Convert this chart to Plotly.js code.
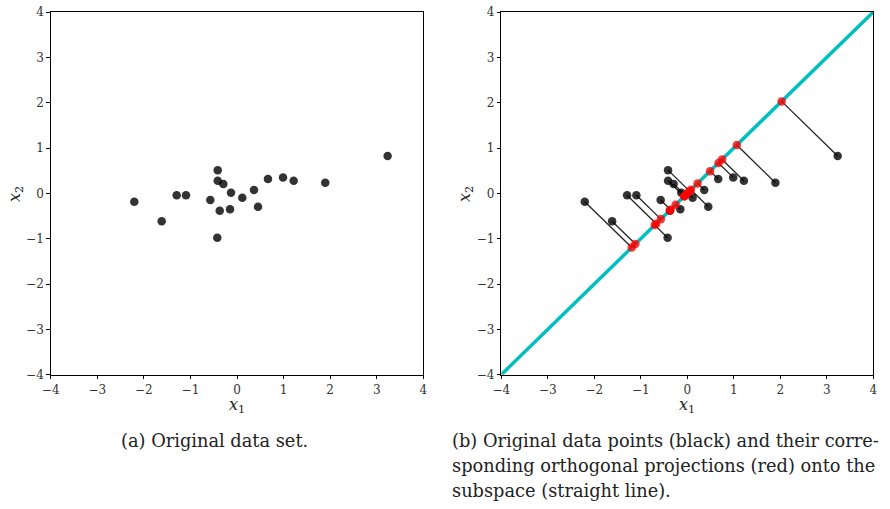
<!DOCTYPE html>
<html>
<head>
<meta charset="utf-8">
<script src="https://cdn.plot.ly/plotly-3.0.1.min.js"></script>
<style>
html,body{margin:0;padding:0;background:#fff;}
#chart{width:890px;height:509px;}
</style>
</head>
<body>
<div id="chart"></div>
<script>
// Data
var x1 = [-2.205, -1.617, -1.295, -1.095, -0.573, -0.414, -0.414, -0.294, -0.371, -0.150,
          -0.423, -0.129, 0.114, 0.365, 0.451, 0.665, 0.988, 1.217, 1.895, 3.234];
var x2 = [-0.184, -0.616, -0.042, -0.042, -0.147, 0.512, 0.279, 0.206, -0.382, -0.352,
          -0.978, 0.015, -0.096, 0.074, -0.294, 0.315, 0.352, 0.279, 0.234, 0.823];
var subspaceX = [-4, 4];
var subspaceY = [-4, 4];
var tickVals = [-4, -3, -2, -1, 0, 1, 2, 3, 4];
var tickText = ['\u22124', '\u22123', '\u22122', '\u22121', '0', '1', '2', '3', '4'];
var captionA = '(a) Original data set.';
var captionB = ['(b) Original data points (black) and their corre-',
                'sponding orthogonal projections (red) onto the',
                'subspace (straight line).'];

// Orthogonal projection onto the line spanned by (1,1)
var px = [], py = [];
for (var i = 0; i < x1.length; i++) {
  var t = (x1[i] + x2[i]) / 2;
  px.push(t); py.push(t);
}
var segX = [], segY = [];
for (var i = 0; i < x1.length; i++) {
  segX.push(x1[i], px[i], null);
  segY.push(x2[i], py[i], null);
}

var ptColor = 'rgba(0,0,0,0.8)';
var data = [
  {x: x1, y: x2, xaxis: 'x', yaxis: 'y', mode: 'markers', type: 'scatter',
   marker: {size: 8.5, color: ptColor, line: {width: 0}}, hoverinfo: 'none'},
  {x: subspaceX, y: subspaceY, xaxis: 'x2', yaxis: 'y2', mode: 'lines', type: 'scatter',
   line: {color: '#00bfbf', width: 3.5}, hoverinfo: 'none'},
  {x: segX, y: segY, xaxis: 'x2', yaxis: 'y2', mode: 'lines', type: 'scatter',
   line: {color: '#222', width: 1.3}, hoverinfo: 'none'},
  {x: x1, y: x2, xaxis: 'x2', yaxis: 'y2', mode: 'markers', type: 'scatter',
   marker: {size: 8.5, color: ptColor, line: {width: 0}}, hoverinfo: 'none'},
  {x: px, y: py, xaxis: 'x2', yaxis: 'y2', mode: 'markers', type: 'scatter',
   marker: {size: 8.5, color: 'rgba(255,0,0,0.78)', line: {width: 0}}, hoverinfo: 'none'}
];

var SERIF = 'DejaVu Serif';
var tickFont = {family: SERIF, size: 12, color: '#333'};
function ax(domain, anchor) {
  return {
    domain: domain, anchor: anchor, range: [-4, 4], tickvals: tickVals, ticktext: tickText,
    ticks: 'outside', ticklen: 3.5, tickwidth: 1, tickcolor: '#000',
    showline: true, linecolor: '#000', linewidth: 1, mirror: true,
    showgrid: false, zeroline: false, tickfont: tickFont, fixedrange: true
  };
}

var titleFont = {family: SERIF, size: 16, color: '#222'};
var capFont = {family: SERIF, size: 17.8, color: '#222'};
var yd = [1 - 374.7 / 509, 1 - 12 / 509];
var ann = [
  {text: '<i>x</i><sub>1</sub>', xref: 'paper', yref: 'paper', x: 237 / 890, y: 1 - 405 / 509,
   xanchor: 'center', yanchor: 'middle', showarrow: false, font: titleFont},
  {text: '<i>x</i><sub>1</sub>', xref: 'paper', yref: 'paper', x: 687.3 / 890, y: 1 - 405 / 509,
   xanchor: 'center', yanchor: 'middle', showarrow: false, font: titleFont},
  {text: '<i>x</i><sub>2</sub>', xref: 'paper', yref: 'paper', x: 15 / 890, y: 1 - 194 / 509,
   xanchor: 'center', yanchor: 'middle', textangle: -90, showarrow: false, font: titleFont},
  {text: '<i>x</i><sub>2</sub>', xref: 'paper', yref: 'paper', x: 465 / 890, y: 1 - 194 / 509,
   xanchor: 'center', yanchor: 'middle', textangle: -90, showarrow: false, font: titleFont},
  {text: captionA, xref: 'paper', yref: 'paper', x: 119 / 890, y: 1 - 440 / 509,
   xanchor: 'left', yanchor: 'middle', showarrow: false, align: 'left', font: capFont}
];
for (var k = 0; k < captionB.length; k++) {
  ann.push({text: captionB[k], xref: 'paper', yref: 'paper', x: 450 / 890, y: 1 - (440 + 25 * k) / 509,
            xanchor: 'left', yanchor: 'middle', showarrow: false, align: 'left', font: capFont});
}
var layout = {
  width: 890, height: 509,
  margin: {l: 0, r: 0, t: 0, b: 0},
  paper_bgcolor: '#fff', plot_bgcolor: '#fff',
  showlegend: false,
  font: {family: SERIF},
  xaxis: ax([50.7 / 890, 423.3 / 890], 'y'),
  yaxis: ax(yd, 'x'),
  xaxis2: ax([501.3 / 890, 873.3 / 890], 'y2'),
  yaxis2: ax(yd, 'x2'),
  annotations: ann
};

Plotly.newPlot('chart', data, layout, {staticPlot: true, displayModeBar: false});
</script>
</body>
</html>
